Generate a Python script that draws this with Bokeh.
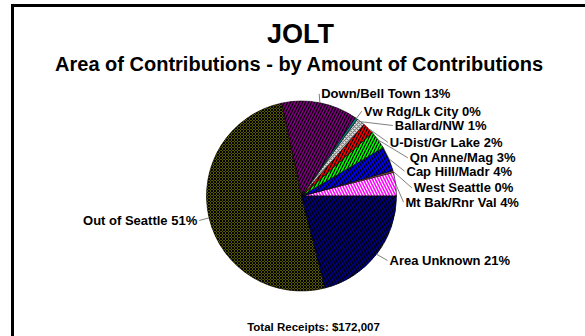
import numpy as np
from bokeh.plotting import figure
from bokeh.models import ColumnDataSource, Range1d
from bokeh.core.properties import value
from bokeh.embed import file_html
from bokeh.resources import INLINE

# ---- data ----
areas = ["Mt Bak/Rnr Val", "West Seattle", "Cap Hill/Madr", "Qn Anne/Mag",
         "U-Dist/Gr Lake", "Ballard/NW", "Vw Rdg/Lk City", "Down/Bell Town",
         "Out of Seattle", "Area Unknown"]
shares = [4.0, 0.3, 4.2, 3.1, 2.0, 1.4, 0.4, 13.0, 50.6, 21.0]
title_text = "JOLT"
subtitle_text = "Area of Contributions - by Amount of Contributions"
total_text = "Total Receipts: $172,007"

# ---- styles ----
fills = ["#FF00FF", "#996633", "#0000FF", "#00FF00", "#FF0000",
         "#E6E6E6", "#008080", "#800080", "#808000", "#000080"]
hatches = ["\\", " ", "\\", "/", "/", "x", " ", "/", "x", "\\"]
hatch_colors = ["white", "black", "black", "black", "black",
                "#808080", "black", "black", "black", "black"]
hatch_scales = [6, 6, 6, 6, 6, 4, 6, 6, 3, 6]

# label layout in page pixels: (x, centre y, align)
label_layout = [(405, 201.7, "left"), (413.3, 187.3, "left"), (406, 170.7, "left"),
                (409.3, 157.3, "left"), (389.3, 141.7, "left"), (394.3, 125.0, "left"),
                (363.3, 110.7, "left"), (320.7, 93.3, "left"), (196.7, 220.0, "right"),
                (389.0, 260.0, "left")]

PAGE_W, PAGE_H = 585, 336
def py(y):
    return PAGE_H - y

CX, CY, R = 301, py(195.5), 95

p = figure(width=PAGE_W, height=PAGE_H, x_range=Range1d(0, PAGE_W), y_range=Range1d(0, PAGE_H),
           output_backend="svg", toolbar_location=None, min_border=0)
p.axis.visible = False
p.grid.visible = False
p.outline_line_color = None
p.background_fill_color = "white"
p.border_fill_color = "white"

tot = float(sum(shares))
cum = np.concatenate([[0.0], np.cumsum(shares)]) / tot * 2 * np.pi
starts, ends = cum[:-1], cum[1:]
mids = (starts + ends) / 2

src = ColumnDataSource(dict(
    area=areas, share=shares, start=starts, end=ends,
    fill=fills, hatch=hatches, hcol=hatch_colors, hscale=hatch_scales))

p.wedge(x=CX, y=CY, radius=R, start_angle="start", end_angle="end", source=src,
        fill_color="fill", hatch_pattern="hatch", hatch_color="hcol",
        hatch_scale="hscale", hatch_weight=1.2, line_color="black", line_width=0.6)

# leader lines and labels
lx0, ly0, lx1, ly1 = [], [], [], []
tx, ty, tt, ta = [], [], [], []
for a, s, m, (x, yc, al) in zip(areas, shares, mids, label_layout):
    ex, ey = CX + R * np.cos(m), CY + R * np.sin(m)
    ax = x - 2 if al == "left" else x + 2
    lx0.append(ex); ly0.append(ey); lx1.append(ax); ly1.append(py(yc))
    tx.append(x); ty.append(py(yc)); tt.append(f"{a} {round(s)}%"); ta.append(al)

p.segment(x0=lx0, y0=ly0, x1=lx1, y1=ly1, line_color="#808080", line_width=1)
lab = ColumnDataSource(dict(x=tx, y=ty, t=tt, a=ta))
p.text(x="x", y="y", text="t", text_align="a", source=lab,
       text_font=value("Liberation Sans"), text_font_style="bold",
       text_font_size="13px", text_baseline="middle", text_color="black")

p.text(x=[300], y=[py(33.3)], text=[title_text], text_align="center",
       text_font=value("Liberation Sans"), text_font_style="bold",
       text_font_size="27px", text_baseline="middle")
p.text(x=[299], y=[py(63.0)], text=[subtitle_text], text_align="center",
       text_font=value("Liberation Sans"), text_font_style="bold",
       text_font_size="20px", text_baseline="middle")
p.text(x=[313], y=[py(326.0)], text=[total_text], text_align="center",
       text_font=value("Liberation Sans"), text_font_style="bold",
       text_font_size="11.5px", text_baseline="middle")

# chart frame border (left and top edges of the box)
p.segment(x0=[12, 10.5], y0=[py(336), py(5)], x1=[12, 585], y1=[py(3.5), py(5)],
          line_color="black", line_width=3)

open("out.html", "w").write(file_html(p, INLINE))
